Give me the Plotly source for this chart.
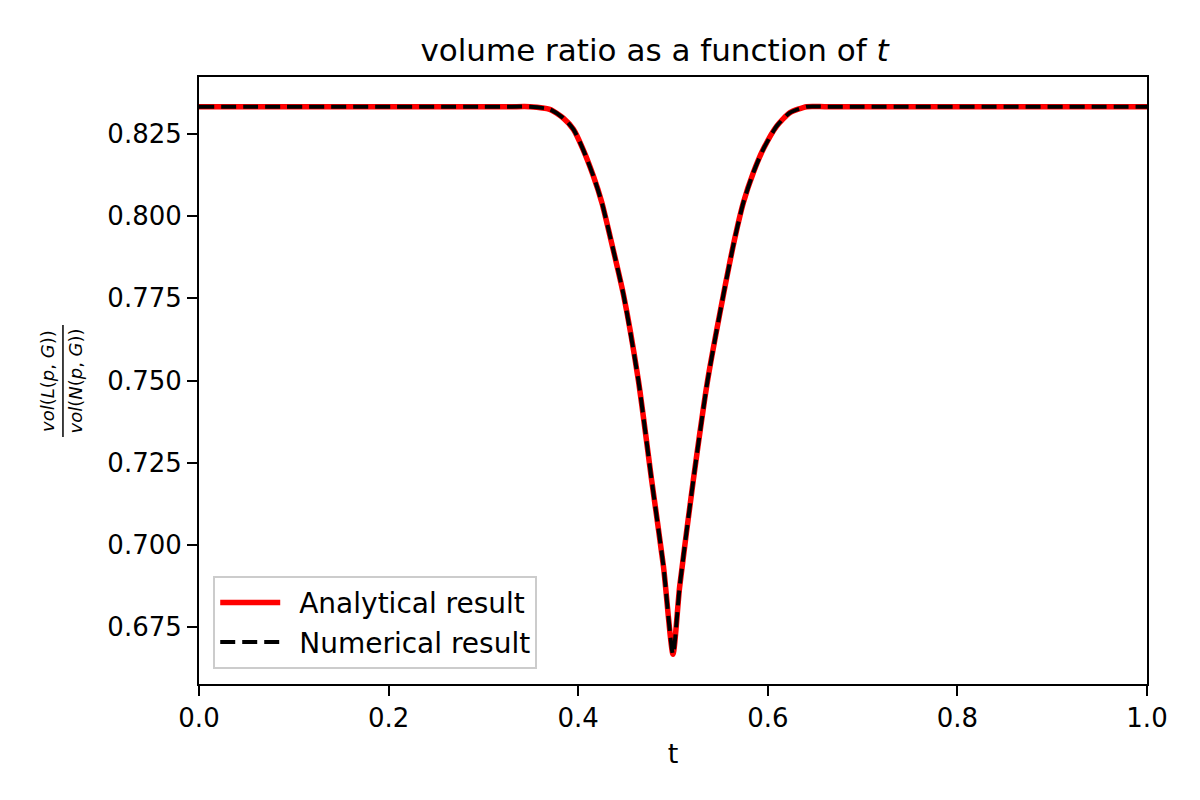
import plotly.graph_objects as go

# valori
t_vals = [0.0, 0.30, 0.33, 0.349, 0.370, 0.384, 0.395, 0.405, 0.416, 0.425, 0.4335, 0.448,
          0.4635, 0.4775, 0.490, 0.500, 0.507, 0.5214, 0.5365, 0.553, 0.565, 0.5742,
          0.5847, 0.5953, 0.6094, 0.6234, 0.641, 0.66, 0.70, 1.0]
ratio_analytical = [0.8333, 0.8333, 0.8333, 0.8333, 0.8325, 0.8299, 0.8264, 0.8204, 0.8122,
                    0.8041, 0.7940, 0.7758, 0.7500, 0.7196, 0.6933, 0.6667, 0.6872, 0.7196,
                    0.7500, 0.7758, 0.7930, 0.8041, 0.8132, 0.8204, 0.8274, 0.8315, 0.8333,
                    0.8333, 0.8333, 0.8333]
ratio_numerical = list(ratio_analytical)

y_ticks = [0.675, 0.700, 0.725, 0.750, 0.775, 0.800, 0.825]
x_ticks = [0.0, 0.2, 0.4, 0.6, 0.8, 1.0]

FONT = 'DejaVu Sans'

fig = go.Figure()
fig.add_trace(go.Scatter(
    x=t_vals, y=ratio_analytical, mode='lines', name='\u2002Analytical result',
    line=dict(color='#ff0000', width=5.5, shape='spline', smoothing=0.6),
))
fig.add_trace(go.Scatter(
    x=t_vals, y=ratio_numerical, mode='lines', name='\u2002Numerical result',
    line=dict(color='black', width=4, dash='15px,7px', shape='spline', smoothing=0.6),
))

axis_common = dict(
    showline=True, mirror=True, linecolor='black', linewidth=2,
    ticks='outside', ticklen=10, tickwidth=2, tickcolor='black',
    showgrid=False, zeroline=False,
    tickfont=dict(family=FONT, size=26, color='black'),
)
fig.update_xaxes(range=[0, 1], tickvals=x_ticks, tickformat='.1f',
                 title=dict(text='t', font=dict(family=FONT, size=27, color='black'), standoff=12),
                 **axis_common)
fig.update_yaxes(range=[0.65767, 0.84233], tickvals=y_ticks, tickformat='.3f', **axis_common)

# etichetta y a frazione (vol(L)/vol(N))
fig.add_annotation(text='<i>vol</i>(<i>L</i>(<i>p</i>, <i>G</i>))', textangle=-90,
                   xref='paper', yref='paper', x=-0.1598, y=0.4984,
                   xanchor='center', yanchor='middle', showarrow=False,
                   font=dict(family=FONT, size=18, color='black'))
fig.add_annotation(text='<i>vol</i>(<i>N</i>(<i>p</i>, <i>G</i>))', textangle=-90,
                   xref='paper', yref='paper', x=-0.1308, y=0.4984,
                   xanchor='center', yanchor='middle', showarrow=False,
                   font=dict(family=FONT, size=18, color='black'))
fig.add_shape(type='line', xref='paper', yref='paper', x0=-0.1435, x1=-0.1435,
              y0=0.4069, y1=0.5914, line=dict(color='black', width=1.5))

# margini spostati di 8px per compensare il margine del body html
fig.update_layout(
    width=1200, height=800,
    margin=dict(l=191, r=61, t=69, b=124),
    paper_bgcolor='white', plot_bgcolor='white',
    title=dict(text='volume ratio as a function of <i>t</i>', x=0.4805, xref='paper',
               xanchor='center', y=1 - 42 / 800, yanchor='middle',
               font=dict(family=FONT, size=31, color='black')),
    legend=dict(x=0.015, y=0.025, xanchor='left', yanchor='bottom',
                bgcolor='white', bordercolor='#cccccc', borderwidth=2,
                itemwidth=60,
                font=dict(family=FONT, size=28, color='black')),
    showlegend=True,
)

fig.write_html('out.html')
